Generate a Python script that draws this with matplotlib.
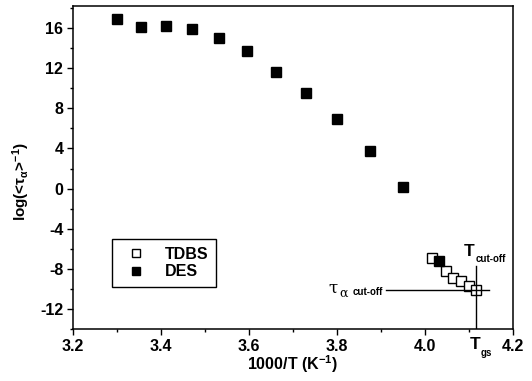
import numpy as np
import matplotlib.pyplot as plt
from matplotlib.ticker import MultipleLocator

plt.rcParams['font.family'] = ['Liberation Sans', 'DejaVu Sans']
plt.rcParams['font.weight'] = 'bold'
plt.rcParams['mathtext.default'] = 'regular'
plt.rcParams['axes.unicode_minus'] = False

# DES data
des_x = [3.30, 3.355, 3.411, 3.471, 3.532, 3.595, 3.661, 3.730, 3.800, 3.874, 3.951, 4.032]
des_y = [16.9, 16.1, 16.2, 15.9, 15.0, 13.7, 11.6, 9.5, 6.95, 3.75, 0.15, -7.25]

# TDBS data
tdbs_x = [4.015, 4.047, 4.064, 4.081, 4.099, 4.116]
tdbs_y = [-6.95, -8.25, -8.9, -9.25, -9.7, -10.1]

t_gs = 4.115
tau_cut = -10.1

fig = plt.figure(figsize=(5.32, 3.81), dpi=100)
ax = fig.add_axes([73 / 532, 1 - 329 / 381, 440 / 532, 323 / 381])

ax.plot(tdbs_x, tdbs_y, 's', mfc='white', mec='black', mew=1.0, ms=7,
        linestyle='none', label='TDBS')
ax.plot(des_x, des_y, 's', color='black', ms=7, linestyle='none', label='DES')

# cut-off lines
ax.plot([t_gs, t_gs], [-14, -7.7], color='black', lw=1.0)
ax.plot([3.911, 4.145], [tau_cut, tau_cut], color='black', lw=1.0)
ax.text(3.791, tau_cut + 0.2, '\u03c4', ha='center', va='center',
        fontsize=12, family='DejaVu Serif', fontweight='normal')
ax.text(3.816, tau_cut - 0.3, '\u03b1', ha='center', va='center',
        fontsize=9, family='DejaVu Serif', fontweight='normal')
ax.text(3.905, tau_cut - 0.2, 'cut-off', ha='right', va='center', fontsize=7)
ax.text(4.100, -6.75, 'T', fontsize=12.5, ha='center', va='baseline')
ax.text(4.116, -7.05, 'cut-off', fontsize=7, ha='left', va='center')
ax.text(4.114, -14.75, 'T', fontsize=12.5, ha='center', va='top', clip_on=False)
ax.text(4.126, -15.85, 'gs', fontsize=7, ha='left', va='top', clip_on=False)

ax.set_xlim(3.2, 4.2)
ax.set_ylim(-14, 18.2)
ax.xaxis.set_minor_locator(MultipleLocator(0.1))
ax.yaxis.set_minor_locator(MultipleLocator(2))
ax.set_xticks([3.2, 3.4, 3.6, 3.8, 4.0, 4.2])
ax.set_xticklabels(['3.2', '3.4', '3.6', '3.8', '4.0', '4.2'], fontweight='bold')
ax.set_yticks([-12, -8, -4, 0, 4, 8, 12, 16])
ax.set_yticklabels(['-12', '-8', '-4', '0', '4', '8', '12', '16'], fontweight='bold')
ax.tick_params(which='major', direction='out', length=4, width=1, labelsize=11.5, pad=3)
ax.tick_params(which='minor', direction='out', length=2.5, width=1)
for s in ax.spines.values():
    s.set_linewidth(1.1)

ax.set_xlabel('1000/T (K$^{-1}$)', fontsize=11.5, fontweight='bold', labelpad=0)
ax.set_ylabel('log(<$\\tau_{\\alpha}$>$^{-1}$)', fontsize=11, fontweight='bold')
ax.yaxis.set_label_coords(-0.093, 0.455)

leg = ax.legend(loc='upper left', bbox_to_anchor=(0.089, 0.279), fontsize=11.5,
                frameon=True, fancybox=False, edgecolor='black', borderpad=0.5,
                handletextpad=0.8, labelspacing=0.15, borderaxespad=0,
                handlelength=2.0, markerscale=0.8, framealpha=1)
leg.get_frame().set_linewidth(1.0)
for t in leg.get_texts():
    t.set_fontweight('bold')

fig.savefig('out.png', dpi=100)
